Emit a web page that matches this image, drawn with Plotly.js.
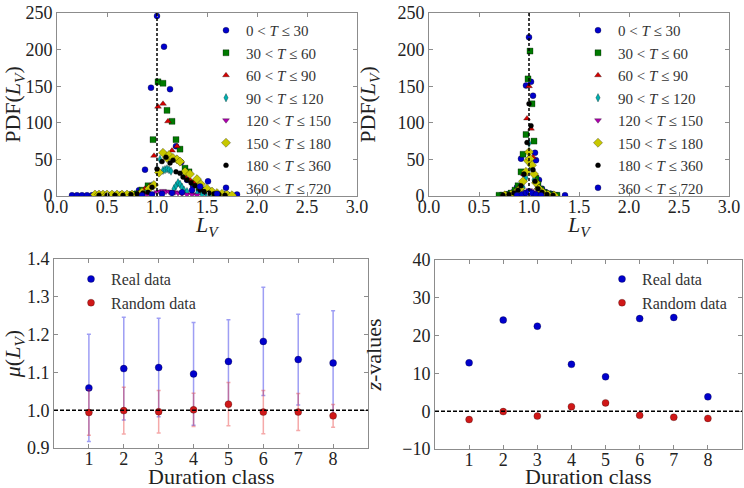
<!DOCTYPE html>
<html>
<head>
<meta charset="utf-8">
<script src="https://cdn.plot.ly/plotly-3.0.1.min.js"></script>
<style>html,body{margin:0;padding:0;background:#fff;}#chart{width:744px;height:488px;}</style>
</head>
<body>
<div id="chart"></div>
<script>
// ---------- Data ----------
var seriesNames = ["0 &lt; <i>T</i> ≤ 30", "30 &lt; <i>T</i> ≤ 60", "60 &lt; <i>T</i> ≤ 90", "90 &lt; <i>T</i> ≤ 120",
                   "120 &lt; <i>T</i> ≤ 150", "150 &lt; <i>T</i> ≤ 180", "180 &lt; <i>T</i> ≤ 360", "360 &lt; <i>T</i> ≤ 720"];

// Top-left panel (PDF of L_V, real data)
var tl_x1 = [0.15,0.20,0.25,0.30,0.35,0.46,0.58,0.64,0.70,0.76,0.82,0.88,0.94,1.00,1.07,1.13,1.19,1.24,1.30,1.36,1.42,1.48,1.54,1.60,1.80];
var tl_y1 = [1,1,1,1,1,1,1,2,1,2,8,36,148,246,204,146,68,46,22,14,8,5,3,2,2];
var tl_x2 = [0.40,0.45,0.50,0.55,0.60,0.65,0.70,0.75,0.80,0.85,0.91,0.96,1.01,1.06,1.10,1.15,1.19,1.23,1.28,1.32,1.37,1.42,1.46,1.51,1.55,1.60,1.65,1.70];
var tl_y2 = [1,1,1,1,1,1,1,2,3,8,14,77,156,154,117,102,77,64,38,33,18,12,8,5,3,2,2,1];
var tl_x3 = [0.45,0.55,0.65,0.75,0.82,0.88,0.93,0.97,1.01,1.06,1.11,1.15,1.20,1.24,1.29,1.33,1.38,1.43,1.47,1.52,1.57,1.62];
var tl_y3 = [1,1,1,2,4,10,14,55,122,126,102,62,68,47,25,22,19,10,6,4,2,1];
var tl_x4 = [0.80,0.85,0.90,0.95,1.00,1.03,1.06,1.08,1.10,1.12,1.14,1.17,1.19,1.21,1.23,1.25,1.27,1.30,1.35,1.40,1.45,1.50,1.55,1.60];
var tl_y4 = [2,4,8,14,36,50,35,36,37,36,34,10,14,18,16,12,8,6,4,3,2,1,1,1];
var tl_x5 = [0.85,0.90,0.95,1.00,1.03,1.06,1.09,1.12,1.15,1.18,1.21,1.25,1.30,1.35,1.40];
var tl_y5 = [1,2,3,5,6,7,6,6,5,5,4,3,2,2,1];
var tl_x6 = [0.38,0.42,0.46,0.50,0.55,0.60,0.65,0.70,0.75,0.85,0.92,0.97,1.02,1.06,1.10,1.12,1.16,1.20,1.23,1.28,1.33,1.40,1.44,1.50,1.55,1.60,1.65,1.70,1.75];
var tl_y6 = [2,2,2,2,2,2,2,2,2,5,10,15,32,59,52,56,52,50,47,33,30,23,16,10,6,4,3,2,1];
var tl_x7 = [0.42,0.50,0.58,0.66,0.74,0.80,0.86,0.91,0.95,1.00,1.05,1.09,1.13,1.16,1.19,1.23,1.26,1.30,1.34,1.38,1.43,1.47,1.52,1.57,1.62,1.68];
var tl_y7 = [1,1,1,1,2,3,4,5,12,37,47,53,45,49,33,31,26,22,18,14,9,6,4,3,2,1];
var tl_x8 = [0.85,0.95,1.05,1.15,1.25,1.35,1.43,1.51,1.60];
var tl_y8 = [1,2,3,4,5,8,13,20,3];

// Top-right panel (PDF of L_V, random data)
var tr_x1 = [0.72,0.77,0.81,0.85,0.88,0.92,0.95,0.97,1.00,1.02,1.04,1.06,1.07,1.10,1.13,1.17,1.22,1.28,1.36];
var tr_y1 = [1,2,3,6,12,51,30,151,217,156,137,59,49,22,10,5,3,1,1];
var tr_x2 = [0.70,0.74,0.78,0.82,0.86,0.89,0.92,0.94,0.97,0.99,1.01,1.03,1.05,1.07,1.09,1.12,1.15,1.19,1.23,1.28];
var tr_y2 = [1,1,2,4,8,14,33,57,84,160,198,126,75,24,16,9,5,3,2,1];
var tr_x3 = [0.74,0.80,0.85,0.89,0.92,0.95,0.98,1.00,1.02,1.04,1.06,1.09,1.13,1.18,1.24];
var tr_y3 = [1,2,4,9,15,30,106,150,92,53,30,12,5,2,1];
var tr_x4 = [0.80,0.86,0.90,0.94,0.97,1.00,1.02,1.05,1.08,1.12,1.18];
var tr_y4 = [1,3,6,12,25,72,40,22,10,4,1];
var tr_x5 = [0.85,0.90,0.95,0.98,1.00,1.02,1.05,1.08,1.12];
var tr_y5 = [1,2,4,6,8,7,5,3,1];
var tr_x6 = [0.76,0.82,0.87,0.91,0.94,0.97,0.99,1.00,1.01,1.03,1.05,1.07,1.10,1.14,1.19,1.25];
var tr_y6 = [1,2,5,10,20,33,48,60,51,42,30,18,10,5,2,1];
var tr_x7 = [0.74,0.80,0.85,0.89,0.92,0.95,0.98,1.00,1.02,1.04,1.06,1.09,1.13,1.18,1.24];
var tr_y7 = [1,2,4,8,14,30,73,126,96,36,20,10,5,2,1];
var tr_x8 = [0.88,0.93,0.97,1.00,1.03,1.07,1.12];
var tr_y8 = [1,2,4,6,4,2,1];

// Bottom panels
var durationClass = [1,2,3,4,5,6,7,8];
var muReal      = [1.059,1.110,1.113,1.096,1.129,1.182,1.134,1.125];
var muRealErr   = [0.142,0.136,0.130,0.136,0.110,0.143,0.120,0.138];
var muRandom    = [0.994,0.999,0.996,1.001,1.016,0.995,0.995,0.985];
var muRandomErr = [0.060,0.062,0.056,0.044,0.057,0.057,0.049,0.030];
var zReal   = [12.8,24.1,22.5,12.4,9.1,24.5,24.8,3.8];
var zRandom = [-2.2,-0.1,-1.3,1.2,2.2,-1.1,-1.6,-1.9];

// ---------- Styles ----------
var FONT = "Liberation Serif, DejaVu Serif, serif";
var colors  = ["#0000cc","#007a00","#d40000","#00b0b0","#b000b0","#c8c800","#000000","#0000cc"];
var symbols = ["circle","square","triangle-up","diamond-tall","triangle-down","diamond","circle","circle"];
var sizes   = [6,6,6,6,6,7,5,6];

var tl = [[tl_x1,tl_y1],[tl_x2,tl_y2],[tl_x3,tl_y3],[tl_x4,tl_y4],[tl_x5,tl_y5],[tl_x6,tl_y6],[tl_x7,tl_y7],[tl_x8,tl_y8]];
var tr = [[tr_x1,tr_y1],[tr_x2,tr_y2],[tr_x3,tr_y3],[tr_x4,tr_y4],[tr_x5,tr_y5],[tr_x6,tr_y6],[tr_x7,tr_y7],[tr_x8,tr_y8]];

var traces = [];
function addPanel(data, xa, ya, leg) {
  data.forEach(function(d, i) {
    traces.push({
      type: "scatter", mode: "markers", x: d[0], y: d[1], xaxis: xa, yaxis: ya,
      name: seriesNames[i], legend: leg, cliponaxis: true,
      marker: {color: colors[i], symbol: symbols[i], size: sizes[i], line: {width: 0.5, color: "rgba(0,0,0,0.6)"}}
    });
  });
}
addPanel(tl, "x", "y", "legend");
addPanel(tr, "x2", "y2", "legend2");

traces.push({type:"scatter", mode:"markers", x: durationClass, y: muReal, xaxis:"x3", yaxis:"y3", name:"Real data", legend:"legend3",
  marker:{color:"#0000cc", size:7, line:{width:0.5,color:"rgba(0,0,0,0.5)"}},
  error_y:{type:"data", array: muRealErr, visible:true, color:"rgba(40,40,230,0.45)", thickness:1.5, width:2}});
traces.push({type:"scatter", mode:"markers", x: durationClass, y: muRandom, xaxis:"x3", yaxis:"y3", name:"Random data", legend:"legend3",
  marker:{color:"#d01818", size:7, line:{width:0.5,color:"rgba(0,0,0,0.5)"}},
  error_y:{type:"data", array: muRandomErr, visible:true, color:"rgba(230,40,40,0.4)", thickness:1.5, width:2}});
traces.push({type:"scatter", mode:"markers", x: durationClass, y: zReal, xaxis:"x4", yaxis:"y4", name:"Real data", legend:"legend4",
  marker:{color:"#0000cc", size:7, line:{width:0.5,color:"rgba(0,0,0,0.5)"}}});
traces.push({type:"scatter", mode:"markers", x: durationClass, y: zRandom, xaxis:"x4", yaxis:"y4", name:"Random data", legend:"legend4",
  marker:{color:"#d01818", size:7, line:{width:0.5,color:"rgba(0,0,0,0.5)"}}});

function axis(dom, anchor, extra) {
  var a = {domain: dom, anchor: anchor, showgrid: false, zeroline: false, showline: true, mirror: "allticks",
    linecolor: "#8c8c8c", linewidth: 1, ticks: "inside", ticklen: 4, tickcolor: "#8c8c8c",
    tickfont: {family: FONT, size: 18, color: "#222"}, automargin: false};
  for (var k in extra) a[k] = extra[k];
  return a;
}
var W = 744, H = 488;
function dx(a, b) { return [a / W, b / W]; }
function dy(top, bot) { return [1 - bot / H, 1 - top / H]; }
var titleFont = {family: FONT, size: 22, color: "#222"};

var legendBase = {font: {family: FONT, size: 15, color: "#333"}, bgcolor: "rgba(255,255,255,0)", borderwidth: 0,
  xref: "paper", yref: "paper", xanchor: "left", yanchor: "top", itemsizing: "trace", tracegroupgap: 0};
function leg(xpx, ypx, fs) { var l = JSON.parse(JSON.stringify(legendBase)); l.x = xpx / W; l.y = 1 - ypx / H; if (fs) l.font.size = fs; return l; }

function xTitle(text, xpx, ypx) {
  return {text: text, xref: "paper", yref: "paper", x: xpx / W, y: 1 - ypx / H, xanchor: "center", yanchor: "middle",
          showarrow: false, font: titleFont};
}

var layout = {
  width: W, height: H, margin: {l: 0, r: 0, t: 0, b: 0}, paper_bgcolor: "#fff", plot_bgcolor: "#fff",
  font: {family: FONT, color: "#222"},
  showlegend: true,
  xaxis:  axis(dx(57, 357), "y",  {range: [0, 3], dtick: 0.5, tickformat: ".1f", ticklabelstandoff: -6}),
  yaxis:  axis(dy(13, 196), "x",  {range: [0, 250], dtick: 50, title: {text: "PDF(<i>L<sub>V</sub></i>)", font: titleFont}}),
  xaxis2: axis(dx(429, 729), "y2", {range: [0, 3], dtick: 0.5, tickformat: ".1f", ticklabelstandoff: -6}),
  yaxis2: axis(dy(13, 196), "x2", {range: [0, 250], dtick: 50, title: {text: "PDF(<i>L<sub>V</sub></i>)", font: titleFont}}),
  xaxis3: axis(dx(54, 368), "y3", {range: [0, 9], tickvals: durationClass, ticklabelstandoff: -6}),
  yaxis3: axis(dy(259, 448), "x3", {range: [0.9, 1.4], dtick: 0.1, tickformat: ".1f", title: {text: "<i>μ</i>(<i>L<sub>V</sub></i>)", font: titleFont}}),
  xaxis4: axis(dx(435, 742), "y4", {range: [0, 9], tickvals: durationClass, ticklabelstandoff: -6}),
  yaxis4: axis(dy(260, 449), "x4", {range: [-10, 40], dtick: 10, title: {text: "<i>z</i>-values", font: titleFont}}),
  legend:  leg(206, 14),
  legend2: leg(578, 14),
  legend3: leg(71, 262, 16),
  legend4: leg(602, 262, 16),
  annotations: [
    xTitle("<i>L<sub>V</sub></i>", 207, 226),
    xTitle("<i>L<sub>V</sub></i>", 579, 226),
    xTitle("Duration class", 211, 476),
    xTitle("Duration class", 588, 476)
  ],
  shapes: [
    {type: "line", xref: "x",  yref: "y domain",  x0: 1, x1: 1, y0: 0, y1: 1, line: {color: "#000", width: 1.5, dash: "3px,2px"}},
    {type: "line", xref: "x2", yref: "y2 domain", x0: 1, x1: 1, y0: 0, y1: 1, line: {color: "#000", width: 1.5, dash: "3px,2px"}},
    {type: "line", xref: "x3 domain", yref: "y3", x0: 0, x1: 1, y0: 1, y1: 1, line: {color: "#000", width: 1.5, dash: "4px,2px"}},
    {type: "line", xref: "x4 domain", yref: "y4", x0: 0, x1: 1, y0: 0, y1: 0, line: {color: "#000", width: 1.5, dash: "4px,2px"}}
  ]
};

Plotly.newPlot("chart", traces, layout, {staticPlot: true, displayModeBar: false});
</script>
</body>
</html>
